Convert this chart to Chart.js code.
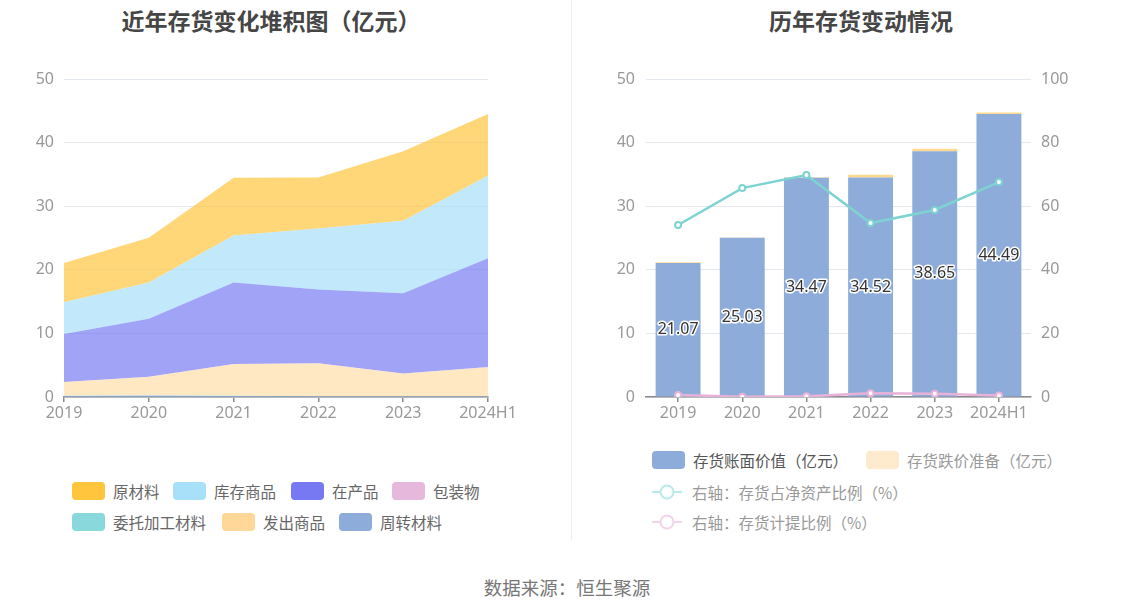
<!DOCTYPE html>
<html>
<head>
<meta charset="utf-8">
<script src="https://cdn.jsdelivr.net/npm/chart.js@4.4.1/dist/chart.umd.min.js"></script>
<style>
    body { margin: 0; width: 1134px; height: 612px; background: #fff; position: relative; overflow: hidden;
           font-family: "Noto Sans", "Noto Sans CJK SC", sans-serif; }
    .title { position: absolute; top: 3px; transform: translateX(-50%); white-space: nowrap;
             font-family: "Noto Sans CJK SC", sans-serif; font-size: 23px; font-weight: bold; color: #464646; }
    .divider { position: absolute; left: 571px; top: 0; width: 1px; height: 540px; background: #eeeeee; }
    .box { position: absolute; }
    .legend { position: absolute; font-family: "Noto Sans CJK SC", sans-serif; font-size: 15.5px; white-space: nowrap; }
    .item { position: absolute; display: flex; align-items: center; height: 20px; }
    .swatch { width: 33px; height: 18px; border-radius: 4px; margin-right: 8px; }
    .icon { width: 30px; height: 16px; margin-right: 10px; }
    .source { position: absolute; left: 567px; top: 574px; transform: translateX(-50%);
              font-family: "Noto Sans CJK SC", sans-serif; font-size: 18.5px; color: #777; white-space: nowrap; }
</style>
</head>
<body>

<div class="title" style="left:271px">近年存货变化堆积图（亿元）</div>
<div class="title" style="left:861px">历年存货变动情况</div>
<div class="divider"></div>

<div class="box" style="left:0;top:40px;width:570px;height:400px"><canvas id="chart1"></canvas></div>
<div class="box" style="left:575px;top:40px;width:559px;height:400px"><canvas id="chart2"></canvas></div>

<div class="legend" id="legend1"></div>
<div class="legend" id="legend2"></div>

<div class="source">数据来源：恒生聚源</div>

<script>
// categories
var years = ['2019', '2020', '2021', '2022', '2023', '2024H1'];

// left chart: inventory breakdown (亿元), bottom to top of the stack
var turnoverMaterials = [0.15, 0.25, 0.15, 0.1, 0.1, 0.1];     // 周转材料
var consignedMaterials = [0.03, 0.03, 0.03, 0.02, 0.02, 0.02];  // 委托加工材料
var goodsShipped = [2.13, 2.87, 4.97, 5.13, 3.53, 4.53];        // 发出商品
var packaging = [0.05, 0.05, 0.05, 0.05, 0.05, 0.05];           // 包装物
var workInProgress = [7.54, 9.1, 12.8, 11.6, 12.6, 17.1];       // 在产品
var finishedGoods = [5.0, 5.7, 7.4, 9.6, 11.4, 13.0];           // 库存商品
var rawMaterials = [6.17, 7.03, 9.07, 8.02, 10.95, 9.69];       // 原材料

// right chart
var bookValue = [21.07, 25.03, 34.47, 34.52, 38.65, 44.49];     // 存货账面价值（亿元）
var impairment = [0.13, 0.03, 0.07, 0.42, 0.4, 0.25];          // 存货跌价准备（亿元）
var netAssetRatio = [54.1, 65.7, 69.8, 54.7, 58.8, 67.6];      // 存货占净资产比例（%）
var provisionRatio = [0.6, 0.1, 0.2, 1.2, 1.0, 0.5];           // 存货计提比例（%）

// tick labels
var leftTicks = [0, 10, 20, 30, 40, 50];
var rightTicks = [0, 20, 40, 60, 80, 100];

var tickFont = { family: '"Noto Sans", "Noto Sans CJK SC", sans-serif', size: 16 };
var tickColor = '#999';
var gridColor = '#e3e8f1';
var axisColor = '#8a8a8a';

function fixWidth(w) {
    return function (scale) { scale.width = w; };
}
function fixHeight(h) {
    return function (scale) { scale.height = h; };
}

// ---------- left: stacked area ----------
var areaSeries = [
    { label: '周转材料', data: turnoverMaterials, color: 'rgba(142, 172, 217, 0.7)' },
    { label: '委托加工材料', data: consignedMaterials, color: 'rgba(136, 216, 220, 0.7)' },
    { label: '发出商品', data: goodsShipped, color: 'rgba(255, 216, 153, 0.6)' },
    { label: '包装物', data: packaging, color: 'rgba(230, 184, 220, 0.7)' },
    { label: '在产品', data: workInProgress, color: 'rgba(118, 121, 242, 0.69)' },
    { label: '库存商品', data: finishedGoods, color: 'rgba(168, 224, 250, 0.7)' },
    { label: '原材料', data: rawMaterials, color: 'rgba(255, 197, 61, 0.69)' }
];

new Chart(document.getElementById('chart1').getContext('2d'), {
    type: 'line',
    data: {
        labels: years,
        datasets: areaSeries.map(function (s, i) {
            return {
                label: s.label,
                data: s.data,
                fill: i === 0 ? 'origin' : '-1',
                backgroundColor: s.color,
                borderColor: s.color,
                borderWidth: 0,
                pointRadius: 0,
                tension: 0
            };
        })
    },
    options: {
        responsive: true,
        maintainAspectRatio: false,
        animation: false,
        layout: { padding: { left: 24, right: 82, top: 39, bottom: 13 } },
        plugins: { legend: { display: false }, tooltip: { enabled: false } },
        scales: {
            x: {
                offset: false,
                afterFit: fixHeight(30),
                border: { display: true, color: axisColor, width: 1.5 },
                grid: { drawOnChartArea: false, drawTicks: true, tickLength: 5, color: axisColor, lineWidth: 1.5 },
                ticks: { color: tickColor, font: tickFont, padding: 2, maxRotation: 0, autoSkip: false }
            },
            y: {
                stacked: true,
                min: leftTicks[0],
                max: leftTicks[leftTicks.length - 1],
                afterFit: fixWidth(40),
                afterBuildTicks: function (scale) {
                    scale.ticks = leftTicks.map(function (v) { return { value: v }; });
                },
                border: { display: false },
                grid: { color: gridColor, drawTicks: false },
                ticks: { color: tickColor, font: tickFont, padding: 10 }
            }
        }
    }
});

// ---------- right: bars + lines ----------
var barLabels = {
    id: 'barLabels',
    afterDatasetsDraw: function (chart) {
        var meta = chart.getDatasetMeta(2);
        var ctx = chart.ctx;
        ctx.save();
        ctx.font = '16px "Noto Sans", sans-serif';
        ctx.textAlign = 'center';
        ctx.textBaseline = 'middle';
        ctx.lineWidth = 3;
        ctx.lineJoin = 'round';
        ctx.strokeStyle = '#fff';
        ctx.fillStyle = '#333';
        meta.data.forEach(function (bar, i) {
            var y = (bar.y + bar.base) / 2;
            var text = bookValue[i].toFixed(2);
            ctx.strokeText(text, bar.x, y);
            ctx.fillText(text, bar.x, y);
        });
        ctx.restore();
    }
};

new Chart(document.getElementById('chart2').getContext('2d'), {
    type: 'bar',
    data: {
        labels: years,
        datasets: [
            {
                type: 'line', label: '右轴：存货占净资产比例（%）', data: netAssetRatio, yAxisID: 'y1', order: 0,
                borderColor: '#7ed3d2', borderWidth: 2.5, pointRadius: 3, pointBorderWidth: 2,
                pointBackgroundColor: '#fff', pointBorderColor: '#7ed3d2', tension: 0
            },
            {
                type: 'line', label: '右轴：存货计提比例（%）', data: provisionRatio, yAxisID: 'y1', order: 0,
                borderColor: '#e8b2d8', borderWidth: 2.5, pointRadius: 3, pointBorderWidth: 2,
                pointBackgroundColor: '#fff', pointBorderColor: '#e8b2d8', tension: 0
            },
            {
                label: '存货账面价值（亿元）', data: bookValue, yAxisID: 'y', order: 1,
                backgroundColor: '#8eacd9', barPercentage: 0.7, categoryPercentage: 1
            },
            {
                label: '存货跌价准备（亿元）', data: impairment, yAxisID: 'y', order: 1,
                backgroundColor: '#fdd98f', barPercentage: 0.7, categoryPercentage: 1
            }
        ]
    },
    options: {
        responsive: true,
        maintainAspectRatio: false,
        animation: false,
        layout: { padding: { left: 31, right: 63, top: 39, bottom: 13 } },
        plugins: { legend: { display: false }, tooltip: { enabled: false } },
        scales: {
            x: {
                stacked: true,
                afterFit: fixHeight(30),
                border: { display: true, color: axisColor, width: 1.5 },
                grid: { offset: false, drawOnChartArea: false, drawTicks: true, tickLength: 5, color: axisColor, lineWidth: 1.5 },
                ticks: { color: tickColor, font: tickFont, padding: 2, maxRotation: 0, autoSkip: false }
            },
            y: {
                stacked: true,
                position: 'left',
                min: leftTicks[0],
                max: leftTicks[leftTicks.length - 1],
                afterFit: fixWidth(40),
                afterBuildTicks: function (scale) {
                    scale.ticks = leftTicks.map(function (v) { return { value: v }; });
                },
                border: { display: false },
                grid: { color: gridColor, drawTicks: false },
                ticks: { color: tickColor, font: tickFont, padding: 11 }
            },
            y1: {
                stacked: false,
                position: 'right',
                min: rightTicks[0],
                max: rightTicks[rightTicks.length - 1],
                afterFit: fixWidth(40),
                afterBuildTicks: function (scale) {
                    scale.ticks = rightTicks.map(function (v) { return { value: v }; });
                },
                border: { display: false },
                grid: { drawOnChartArea: false, drawTicks: false },
                ticks: { color: tickColor, font: tickFont, padding: 10 }
            }
        }
    },
    plugins: [barLabels]
});

// ---------- html legends ----------
function swatchItem(x, y, color, text, textColor) {
    return '<div class="item" style="left:' + x + 'px;top:' + y + 'px">' +
        '<span class="swatch" style="background:' + color + '"></span>' +
        '<span style="color:' + textColor + '">' + text + '</span></div>';
}
function lineItem(x, y, color, text, textColor) {
    return '<div class="item" style="left:' + x + 'px;top:' + y + 'px">' +
        '<svg class="icon" viewBox="0 0 30 16"><line x1="0" y1="8" x2="30" y2="8" stroke="' + color + '" stroke-width="2"/>' +
        '<circle cx="15" cy="8" r="6.5" fill="#fff" stroke="' + color + '" stroke-width="2"/></svg>' +
        '<span style="color:' + textColor + '">' + text + '</span></div>';
}

document.getElementById('legend1').innerHTML =
    swatchItem(72, 481, '#ffc53d', '原材料', '#666') +
    swatchItem(173, 481, '#a8e0fa', '库存商品', '#666') +
    swatchItem(291, 481, '#7679f2', '在产品', '#666') +
    swatchItem(392, 481, '#e6b8dc', '包装物', '#666') +
    swatchItem(72, 512, '#88d8dc', '委托加工材料', '#666') +
    swatchItem(222, 512, '#ffd899', '发出商品', '#666') +
    swatchItem(339, 512, '#8eacd9', '周转材料', '#666');

document.getElementById('legend2').innerHTML =
    swatchItem(652, 450, '#8eacd9', '存货账面价值（亿元）', '#555') +
    swatchItem(866, 450, '#feebcd', '存货跌价准备（亿元）', '#999') +
    lineItem(652, 482, '#b8e9e9', '右轴：存货占净资产比例（%）', '#999') +
    lineItem(652, 512, '#f2d3e9', '右轴：存货计提比例（%）', '#999');
</script>
</body>
</html>
